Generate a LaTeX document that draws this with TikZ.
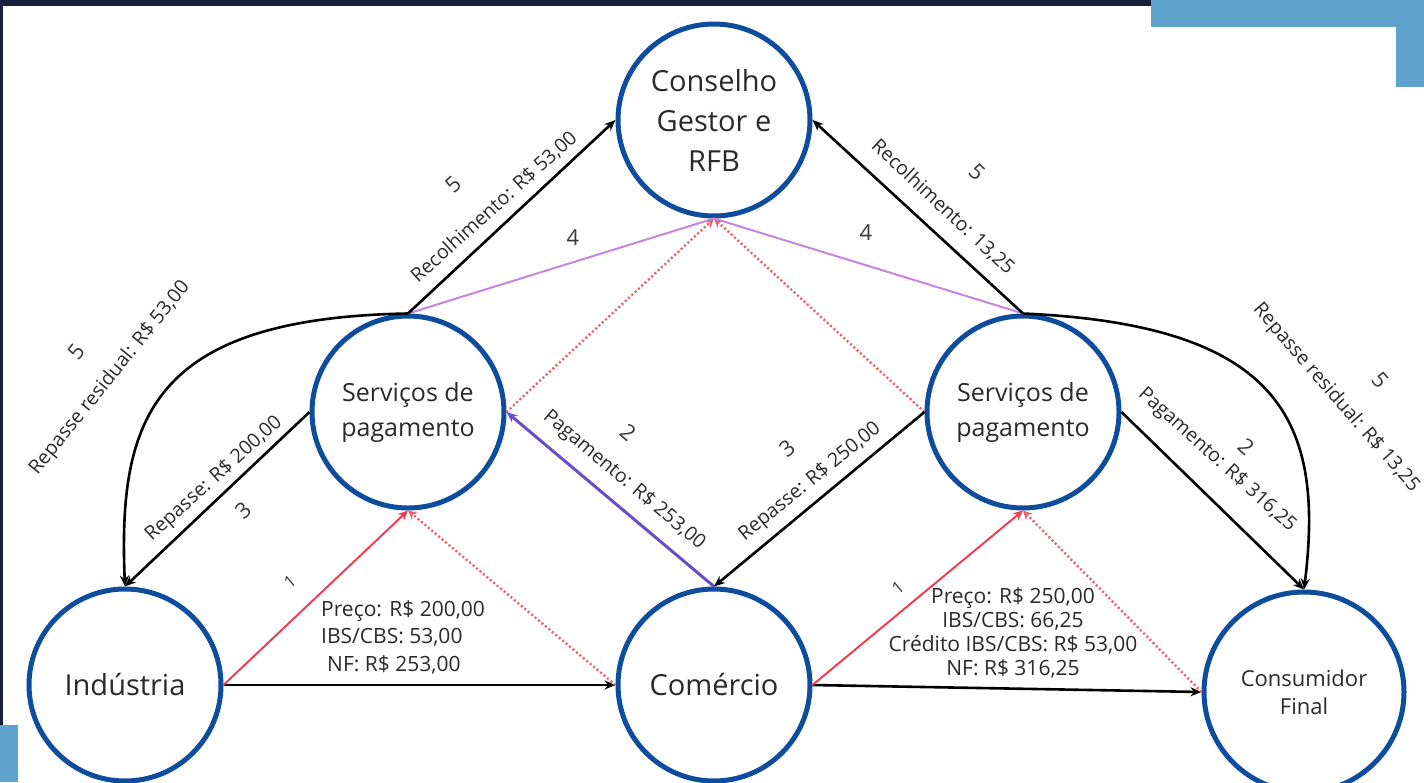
\documentclass[tikz,border=0pt]{standalone}
\usepackage{fontspec}
\setmainfont{Open Sans}
\usetikzlibrary{arrows.meta}
\definecolor{navy}{HTML}{17203A}
\definecolor{lblue}{HTML}{5FA3CC}
\definecolor{cblue}{HTML}{0E4C9E}
\definecolor{txt}{HTML}{2A2A2A}
\definecolor{numgray}{HTML}{3A3A3A}
\definecolor{redl}{HTML}{EF3F52}
\definecolor{redd}{HTML}{E8626A}
\definecolor{pinkl}{HTML}{C983E0}
\definecolor{purl}{HTML}{6A4EC6}
\tikzset{
  circ/.style={circle, draw=cblue, line width=5pt, minimum size=192pt, inner sep=0pt, fill=white, text=txt, align=center},
  lbl/.style={text=txt, font=\fontsize{19.5}{24}\selectfont, inner sep=0pt},
  blbl/.style={text=txt, inner sep=0pt},
  num/.style={text=numgray, font=\fontsize{22}{26}\selectfont, inner sep=0pt},
  blk/.style={draw=black, line width=2.6pt},
  tip/.style={-{Stealth[length=11pt,width=9pt]}},
  redsolid/.style={draw=redl, line width=2pt, -{Stealth[length=10pt,width=9pt]}},
  reddot/.style={draw=redd, line width=2.4pt, dash pattern=on 2pt off 2.5pt, -{Stealth[length=9pt,width=9pt]}},
  pinkline/.style={draw=pinkl, line width=2pt},
  purline/.style={draw=purl, line width=3pt, -{Stealth[length=11pt,width=9pt]}}
}
\begin{document}
\begin{tikzpicture}[x=1pt,y=-1pt]
\useasboundingbox (0,0) rectangle (1424,782);
\fill[white] (0,0) rectangle (1424,782);
\fill[navy] (0,0) rectangle (1151,6);
\fill[navy] (0,0) rectangle (3,725);
\fill[lblue] (1151,0) rectangle (1424,27);
\fill[lblue] (1396,0) rectangle (1424,87);
\fill[lblue] (0,725) rectangle (18,782);

% nodes
\node[circ, font=\fontsize{29}{40}\selectfont] (cs) at (714,120) {Conselho\\Gestor e\\RFB};
\node[circ, font=\fontsize{25}{35}\selectfont] (sl) at (408,412) {Serviços de\\pagamento};
\node[circ, font=\fontsize{25}{35}\selectfont] (sr) at (1023,412) {Serviços de\\pagamento};
\node[circ, font=\fontsize{29}{40}\selectfont] (ind) at (125,685) {Indústria};
\node[circ, font=\fontsize{29}{40}\selectfont] (com) at (714,685) {Comércio};
\node[circ, minimum size=200pt, font=\fontsize{22}{28}\selectfont] (cons) at (1304,692) {Consumidor\\Final};

% connectors
\draw[blk, tip] (ind.east) -- (com.west);
\draw[blk, tip] (com.east) -- (cons.west);
\draw[redsolid] (ind.east) -- (sl.south);
\draw[redsolid] (com.east) -- (sr.south);
\draw[reddot] (com.west) -- (sl.south);
\draw[reddot] (cons.west) -- (sr.south);
\draw[reddot] (sl.east) -- (cs.south);
\draw[reddot] (sr.west) -- (cs.south);
\draw[purline] (com.north) -- (sl.east);
\draw[blk, tip] (sr.west) -- (com.north);
\draw[blk, tip] (sl.west) -- (ind.north);
\draw[blk, tip] (sr.east) -- (cons.north);
\draw[pinkline] (sl.north) -- (cs.south);
\draw[pinkline] (sr.north) -- (cs.south);
\draw[blk, tip] (sl.north) -- (cs.west);
\draw[blk, tip] (sr.north) -- (cs.east);
\draw[blk, tip] (sl.north) .. controls (150,318) and (118,420) .. (ind.north);
\draw[blk, tip] (sr.north) .. controls (1280,325) and (1325,420) .. (cons.north);

% labels
\node[blbl, align=left, anchor=west, font=\fontsize{21}{27.5}\selectfont] (l1) at (321,637) {Preço: R\$ 200,00\\IBS/CBS: 53,00\\\hspace*{6pt}NF: R\$ 253,00};
\node[blbl, align=center, font=\fontsize{21}{24}\selectfont] (l2) at (1013,633) {Preço: R\$ 250,00\\IBS/CBS: 66,25\\Crédito IBS/CBS: R\$ 53,00\\NF: R\$ 316,25};
\node[lbl, rotate=42] (l3) at (494,207) {Recolhimento: R\$ 53,00};
\node[lbl, rotate=-43] (l4) at (943,207) {Recolhimento: 13,25};
\node[lbl, rotate=51] (l5) at (110,378) {Repasse residual: R\$ 53,00};
\node[lbl, rotate=-49] (l6) at (1336,398) {Repasse residual: R\$ 13,25};
\node[lbl, rotate=42] (l7) at (214,479) {Repasse: R\$ 200,00};
\node[lbl, rotate=-40] (l8) at (624,480) {Pagamento: R\$ 253,00};
\node[lbl, rotate=39] (l9) at (810,482) {Repasse: R\$ 250,00};
\node[lbl, rotate=-42] (l10) at (1217,460) {Pagamento: R\$ 316,25};

\node[num, rotate=42] (n1) at (453,185) {5};
\node[num] (n2) at (573,238) {4};
\node[num, rotate=-43] (n3) at (977,172) {5};
\node[num] (n4) at (866,233) {4};
\node[num, rotate=51] (n5) at (76,352) {5};
\node[num, rotate=-49] (n6) at (1380,380) {5};
\node[num, rotate=42] (n7) at (243,510) {3};
\node[num, rotate=-40] (n8) at (628,432) {2};
\node[num, rotate=39] (n9) at (787,448) {3};
\node[num, rotate=-42] (n10) at (1246,447) {2};
\node[num, rotate=40, font=\fontsize{17}{20}\selectfont] (n11) at (290,582) {1};
\node[num, rotate=40, font=\fontsize{17}{20}\selectfont] (n12) at (898,588) {1};
\end{tikzpicture}
\end{document}
